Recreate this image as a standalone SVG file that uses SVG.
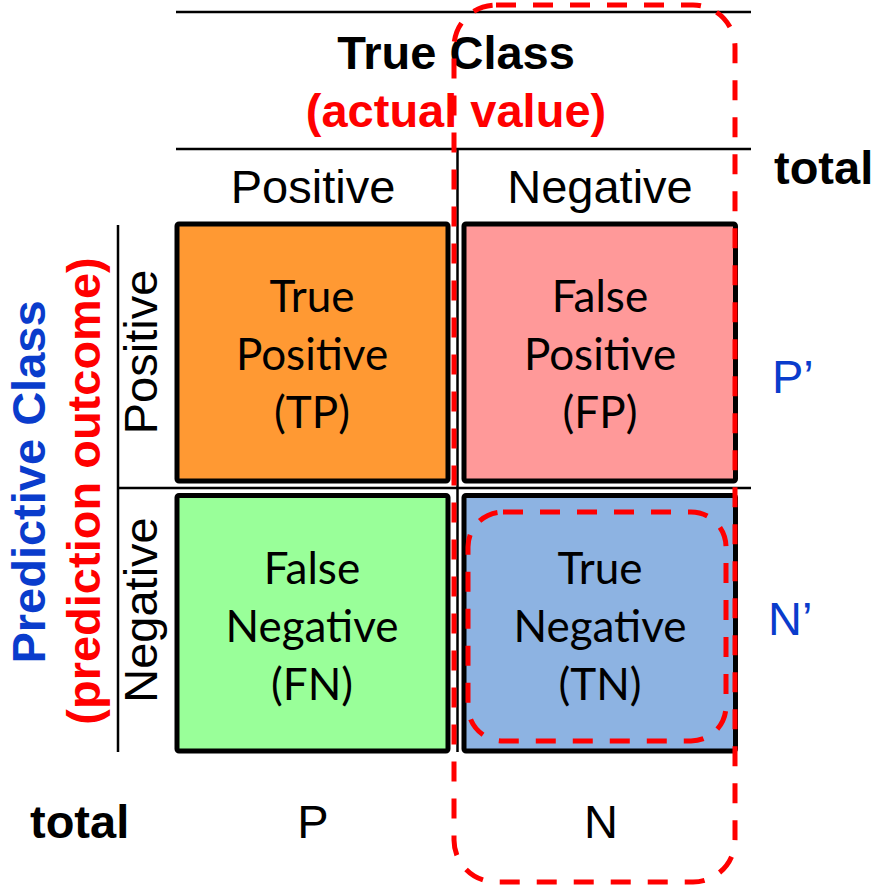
<svg xmlns="http://www.w3.org/2000/svg" width="875" height="886" viewBox="0 0 875 886">
<style>
.ar{font-family:"Liberation Sans",Arial,sans-serif;font-size:47px;fill:#000}
.b{font-weight:bold}
.red{fill:#FF0000}
.blue{fill:#0A3CCC}
.cal{font-family:Lato,"Liberation Sans",sans-serif;font-size:44px;fill:#000;text-anchor:middle}
.mid{text-anchor:middle}
.cell{stroke:#000;stroke-width:5}
.grid{stroke:#000;stroke-width:2.5;fill:none}
.dash{fill:none;stroke:#FF0000;stroke-width:5;stroke-dasharray:20 17}
</style>
<rect width="875" height="886" fill="#fff"/>
<g id="connectors">
<line class="grid" x1="176" y1="12" x2="751" y2="12"/>
<line class="grid" x1="176" y1="149" x2="751" y2="149"/>
<line class="grid" x1="457.5" y1="149" x2="457.5" y2="752"/>
<line class="grid" x1="118" y1="225" x2="118" y2="752"/>
<line class="grid" x1="118" y1="488" x2="751" y2="488"/>
</g>
<g id="header-true-class">
<text class="ar b mid" x="456" y="69">True Class</text>
<text class="ar b mid red" x="456" y="127">(actual value)</text>
</g>
<g id="col-positive"><text class="ar mid" x="313" y="203">Positive</text></g>
<g id="col-negative"><text class="ar mid" x="600" y="203">Negative</text></g>
<g id="total-right"><text class="ar b" x="774" y="184">total</text></g>
<g id="header-predictive-class">
<text class="ar b mid blue" transform="translate(45,482) rotate(-90)">Predictive Class</text>
<text class="ar b mid red" transform="translate(100,491) rotate(-90)">(prediction outcome)</text>
</g>
<g id="row-positive"><text class="ar mid" transform="translate(157,352) rotate(-90)">Positive</text></g>
<g id="row-negative"><text class="ar mid" transform="translate(157,610) rotate(-90)">Negative</text></g>
<g id="tp">
<rect class="cell" x="177" y="224" width="271" height="257" rx="2" fill="#FF9933"/>
<text class="cal" x="312" y="312">True</text>
<text class="cal" x="312" y="370">Positive</text>
<text class="cal" x="312" y="428">(TP)</text>
</g>
<g id="fp">
<rect class="cell" x="464" y="224" width="271.5" height="257" rx="2" fill="#FF9999"/>
<text class="cal" x="600" y="312">False</text>
<text class="cal" x="600" y="370">Positive</text>
<text class="cal" x="600" y="428">(FP)</text>
</g>
<g id="fn">
<rect class="cell" x="177" y="495.5" width="271" height="255.5" rx="2" fill="#99FF99"/>
<text class="cal" x="312" y="584">False</text>
<text class="cal" x="312" y="642">Negative</text>
<text class="cal" x="312" y="700">(FN)</text>
</g>
<g id="tn">
<rect class="cell" x="464" y="495.5" width="271.5" height="255.5" rx="2" fill="#8DB3E2"/>
<text class="cal" x="600" y="584">True</text>
<text class="cal" x="600" y="642">Negative</text>
<text class="cal" x="600" y="700">(TN)</text>
</g>
<g id="p-prime"><text class="ar blue" x="772" y="393">P’</text></g>
<g id="n-prime"><text class="ar blue" x="768" y="635">N’</text></g>
<g id="total-bottom"><text class="ar b" x="30" y="838">total</text></g>
<g id="p-total"><text class="ar mid" x="313" y="838">P</text></g>
<g id="n-total"><text class="ar mid" x="601" y="838">N</text></g>
<g id="negative-column-highlight"><rect class="dash" x="454" y="5" width="281" height="877" rx="42"/></g>
<g id="tn-highlight"><rect class="dash" x="468" y="512" width="258" height="229" rx="35"/></g>
</svg>
